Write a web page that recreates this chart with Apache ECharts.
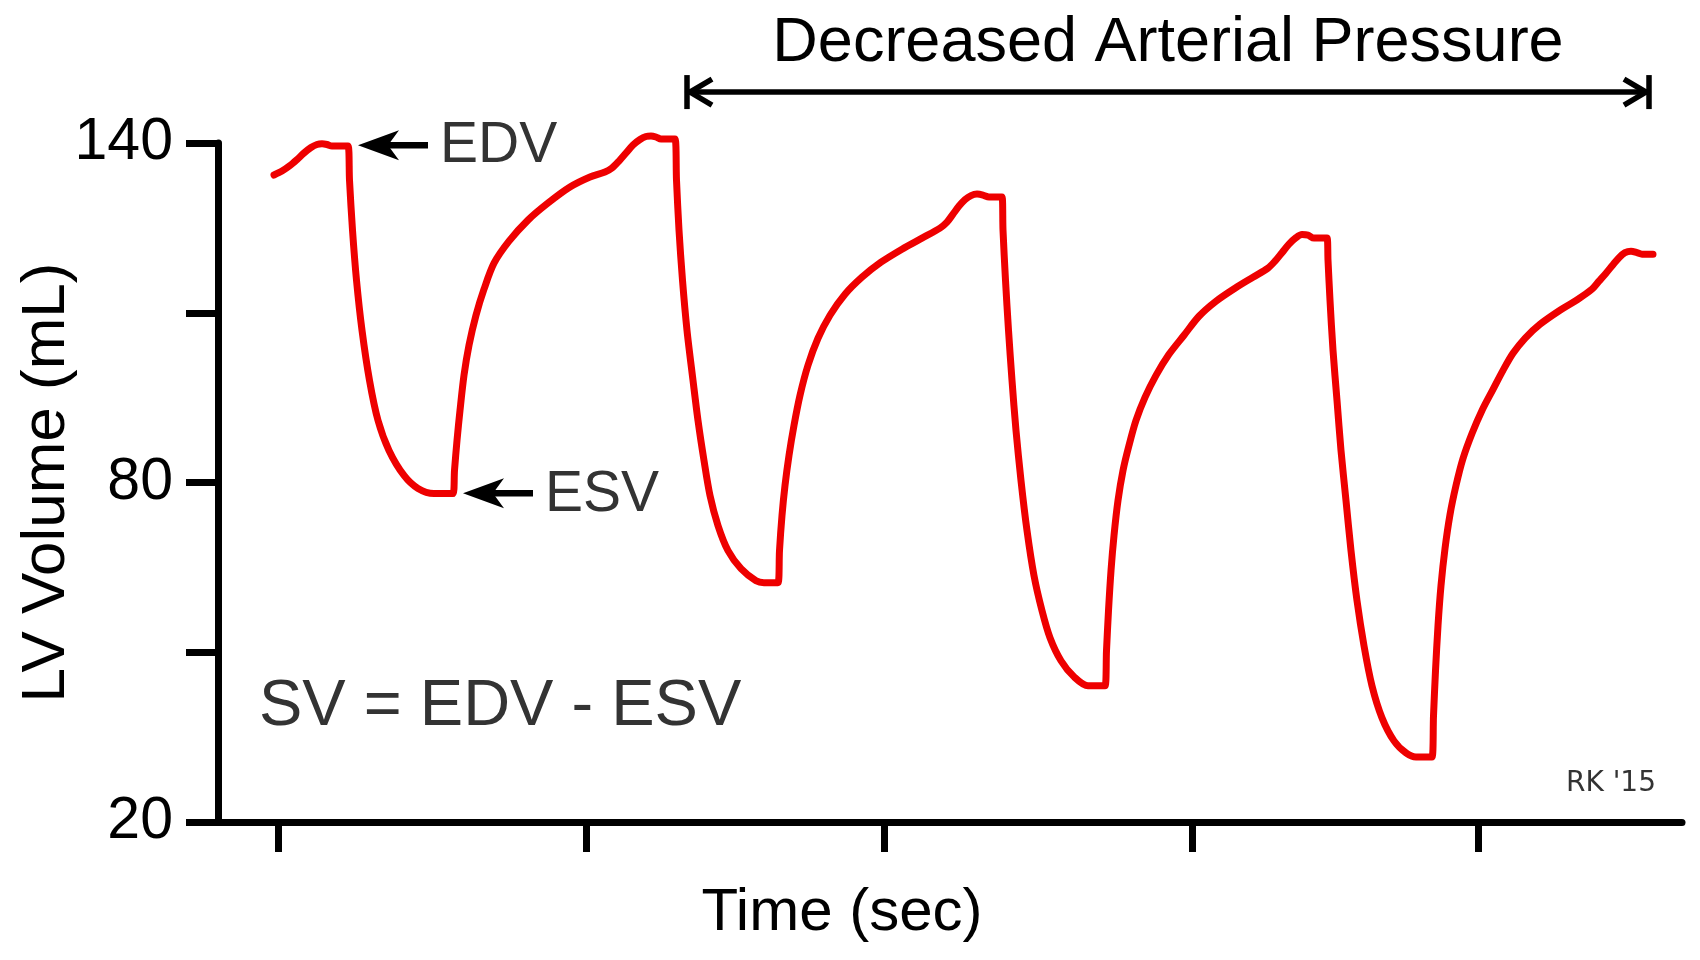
<!DOCTYPE html>
<html>
<head>
<meta charset="utf-8">
<script src="https://cdn.jsdelivr.net/npm/echarts@6/dist/echarts.min.js"></script>
<style>
html,body{margin:0;padding:0;background:#fff;}
#c{width:1700px;height:960px;}
</style>
</head>
<body>
<div id="c"></div>
<script>
// ---- data (time in arbitrary units, volume in mL) ----
const time = [
  56, 64, 72, 79, 86, 93, 99, 104, 109, 114, 130,
  131.5, 134.5, 138.5, 144, 151.5, 160, 171, 186, 200, 216, 235,
  236.5, 239, 242, 246, 251, 258, 266, 276, 291, 310, 330, 352, 372, 387,
  394, 401, 408, 415, 422, 428, 433, 438, 443, 457,
  458.5, 461, 464.5, 469, 475, 480, 486, 492, 500, 510, 523, 538, 546, 560,
  561.5, 564, 567, 571, 576, 582, 590, 600, 612, 627, 644, 663, 684, 704, 722,
  729, 735, 741, 747, 753, 759, 765, 771, 784,
  785, 787.5, 790.5, 794, 798, 803, 809, 816, 824, 832, 843, 856, 870, 887,
  888.5, 890.5, 893, 896, 900, 905, 911, 918, 927, 938, 951, 966, 981, 998, 1017, 1035, 1050,
  1057, 1064, 1071, 1078, 1084, 1090, 1096, 1109,
  1110, 1112, 1115, 1119, 1123, 1128, 1133, 1139, 1146, 1154, 1164, 1176, 1188, 1198, 1214,
  1215.5, 1217.5, 1220, 1223, 1227, 1232, 1238, 1245, 1254, 1264, 1275, 1285, 1295, 1307, 1322, 1342, 1360, 1374,
  1381, 1388, 1395, 1401, 1407, 1413, 1419, 1424, 1435
];
const volume = [
  134.34, 135.04, 136.02, 137.08, 138.23, 139.20, 139.73, 139.86, 139.73, 139.47, 139.47,
  133.45, 124.60, 115.75, 106.90, 98.05, 90.97, 85.66, 81.24, 78.94, 78.05, 78.05,
  82.12, 87.43, 92.74, 98.94, 104.25, 109.56, 114.16, 118.76, 122.65, 126.37, 129.38, 132.21, 133.98, 134.87,
  135.58, 136.81, 138.23, 139.65, 140.62, 141.15, 141.24, 141.06, 140.71, 140.71,
  133.45, 124.60, 115.75, 106.90, 98.05, 90.97, 83.89, 77.70, 72.39, 67.96, 64.78, 62.65, 62.30, 62.30,
  67.96, 74.16, 79.47, 84.78, 90.09, 95.40, 100.71, 105.49, 109.56, 113.27, 116.28, 118.94, 121.24, 123.19, 124.96,
  126.02, 127.43, 128.85, 130.00, 130.71, 130.97, 130.80, 130.44, 130.44,
  124.60, 115.75, 106.90, 98.05, 89.20, 80.35, 71.50, 63.54, 57.35, 52.57, 48.50, 45.66, 44.07, 44.07,
  50.27, 57.35, 64.42, 70.62, 76.81, 82.12, 86.55, 90.97, 95.04, 98.94, 102.65, 106.02, 109.38, 112.04, 114.34, 116.28, 117.88,
  119.12, 120.62, 122.12, 123.27, 123.81, 123.72, 123.19, 123.19,
  119.29, 112.21, 103.36, 94.51, 85.66, 76.81, 67.96, 59.12, 51.15, 44.07, 38.41, 34.34, 32.21, 31.50, 31.50,
  38.76, 46.73, 54.69, 61.77, 68.32, 74.34, 79.47, 84.25, 88.67, 92.74, 96.46, 99.82, 102.83, 105.49, 107.96, 110.44, 112.39, 114.16,
  115.58, 116.99, 118.50, 119.73, 120.62, 120.88, 120.62, 120.35, 120.35
];
const xRange = [0, 1464];
const xTicks = [60, 368, 666, 974, 1260];
const yRange = [20, 140];
const yInterval = 30;
const yLabels = [20, 80, 140];

// annotation anchors in data space
const edvArrow = [[140, 139.6], [210, 139.6]];
const esvArrow = [[245, 78.1], [315, 78.1]];
const pressureSpan = [[469, 149.0], [1431, 149.0]];

const titleText = 'Decreased Arterial Pressure';
const edvText = 'EDV';
const esvText = 'ESV';
const svText = 'SV = EDV - ESV';
const signText = "RK '15";
const xName = 'Time (sec)';
const yName = 'LV Volume (mL)';

// ---- chart ----
const FONT = '"Liberation Sans", Arial, Helvetica, sans-serif';
const chart = echarts.init(document.getElementById('c'), null, {renderer: 'canvas'});
const seriesData = time.map((t, i) => [t, volume[i]]);

const axisLine = {show: true, lineStyle: {color: '#000', width: 7}};

chart.setOption({
  animation: false,
  backgroundColor: '#fff',
  grid: {left: 218, right: 18, top: 143, bottom: 138, containLabel: false, outerBoundsMode: 'none'},
  xAxis: {
    type: 'value', min: xRange[0], max: xRange[1],
    axisLine: axisLine,
    axisTick: {show: true, length: 30, customValues: xTicks, lineStyle: {color: '#000', width: 7}},
    axisLabel: {show: false},
    splitLine: {show: false},
    name: xName, nameLocation: 'middle', nameGap: 61,
    nameTextStyle: {fontSize: 60, color: '#000', fontFamily: FONT, padding: [0, 216, 0, 0]}
  },
  yAxis: {
    type: 'value', min: yRange[0], max: yRange[1], interval: yInterval,
    axisLine: axisLine,
    axisTick: {show: true, length: 32, lineStyle: {color: '#000', width: 7}},
    axisLabel: {
      show: true, margin: 45, fontSize: 59, color: '#000', fontFamily: FONT,
      formatter: v => (yLabels.indexOf(v) >= 0 ? String(v) : '')
    },
    splitLine: {show: false},
    name: yName, nameLocation: 'middle', nameGap: 140, nameRotate: 90, nameMoveOverlap: false,
    nameTextStyle: {fontSize: 62, color: '#000', fontFamily: FONT}
  },
  series: [{
    type: 'line', data: seriesData, symbol: 'none', showSymbol: false,
    smooth: 0.3, clip: false, silent: true,
    lineStyle: {color: '#ee0000', width: 7, cap: 'round', join: 'round'}
  }]
});

// ---- annotations positioned through the chart's own scales ----
const P = p => chart.convertToPixel({gridIndex: 0}, p);
const g = [];
function leftArrow(a) {
  const tip = P(a[0]), tail = P(a[1]);
  g.push({type: 'line', silent: true, shape: {x1: tip[0] + 24, y1: tip[1], x2: tail[0], y2: tail[1]},
          style: {stroke: '#000', lineWidth: 6.5}});
  g.push({type: 'polygon', silent: true, shape: {points: [
    [tip[0], tip[1]], [tip[0] + 41, tip[1] - 15], [tip[0] + 30, tip[1]], [tip[0] + 41, tip[1] + 15]]},
    style: {fill: '#000'}});
  return tail;
}
const edvTail = leftArrow(edvArrow);
const esvTail = leftArrow(esvArrow);

const L = P(pressureSpan[0]), R = P(pressureSpan[1]);
const ps = {stroke: '#000', lineWidth: 5.5, lineCap: 'butt', lineJoin: 'miter'};
g.push({type: 'line', silent: true, shape: {x1: L[0], y1: L[1], x2: R[0], y2: R[1]}, style: ps});
g.push({type: 'line', silent: true, shape: {x1: L[0], y1: L[1] - 17, x2: L[0], y2: L[1] + 17}, style: ps});
g.push({type: 'line', silent: true, shape: {x1: R[0], y1: R[1] - 17, x2: R[0], y2: R[1] + 17}, style: ps});
g.push({type: 'polyline', silent: true, shape: {points: [[L[0] + 25, L[1] - 13], [L[0] + 3, L[1]], [L[0] + 25, L[1] + 13]]}, style: Object.assign({fill: null}, ps)});
g.push({type: 'polyline', silent: true, shape: {points: [[R[0] - 25, R[1] - 13], [R[0] - 3, R[1]], [R[0] - 25, R[1] + 13]]}, style: Object.assign({fill: null}, ps)});

function txt(text, x, y, size, align, color, family) {
  g.push({type: 'text', silent: true, style: {
    text: text, x: x, y: y, fontSize: size, fontFamily: family || FONT,
    fill: color, align: align, verticalAlign: 'middle'}});
}
txt(titleText, (L[0] + R[0]) / 2, 44, 63, 'center', '#000');
txt(edvText, edvTail[0] + 12, edvTail[1] + 1, 57, 'left', '#333');
txt(esvText, esvTail[0] + 12, esvTail[1] + 2, 57, 'left', '#333');
txt(svText, 259, 707, 65, 'left', '#333');
txt(signText, 1656, 784, 28, 'right', '#333', '"DejaVu Sans", sans-serif');

chart.setOption({graphic: {elements: g}});
</script>
</body>
</html>
